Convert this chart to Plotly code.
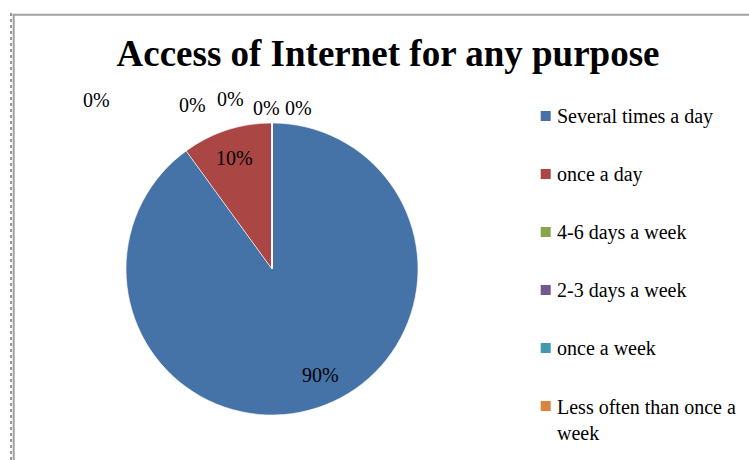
import math
import plotly.graph_objects as go

# ---- data ----
categories = [
    "Several times a day",
    "once a day",
    "4-6 days a week",
    "2-3 days a week",
    "once a week",
    "Less often than once a<br>week",
    "",  # blank row in the source sheet (not listed in the legend)
]
shares = [90, 10, 0, 0, 0, 0, 0]
colors = ["#4572A7", "#AA4643", "#89A54E", "#71588F", "#4198AF", "#DB843D", "#7F7F7F"]

W, H = 749, 460
SERIF = "Liberation Serif, Times New Roman, serif"

# pie placement (pixels)
cx, cy, R = 272, 269, 146

fig = go.Figure()

fig.add_trace(go.Pie(
    labels=categories,
    values=shares,
    marker=dict(colors=colors, line=dict(color="white", width=0.6)),
    sort=False,
    direction="clockwise",
    rotation=0,
    textinfo="none",
    showlegend=False,
    hoverinfo="label+percent",
    domain=dict(x=[(cx - R) / W, (cx + R) / W],
                y=[(H - cy - R) / H, (H - cy + R) / H]),
))

annotations = []

# percentage labels inside the non-zero slices
total = sum(shares)
start = 0.0
for v in shares:
    span = 360.0 * v / total
    if v > 0:
        ang = math.radians(start + 0.48 * span)
        rr = 0.8 * R
        px = cx + rr * math.sin(ang)
        py = cy - rr * math.cos(ang)
        annotations.append(dict(
            x=px / W, y=1 - py / H, xref="paper", yref="paper",
            text=f"{v / total:.0%}", showarrow=False,
            font=dict(family=SERIF, size=20, color="black"),
            xanchor="center", yanchor="middle"))
    start += span

# labels for the empty slices, stacked above the pie
zero_label_px = [(96, 100), (192, 105), (230, 99), (266, 108), (298, 108)]
zero_vals = [v for v in shares if v == 0]
for (px, py), v in zip(zero_label_px, zero_vals):
    annotations.append(dict(
        x=px / W, y=1 - py / H, xref="paper", yref="paper",
        text=f"{v / total:.0%}", showarrow=False,
        font=dict(family=SERIF, size=20, color="black"),
        xanchor="center", yanchor="middle"))

# legend: square swatches on a hidden axis, one row per category
legend_names = [c for c in categories if c]
legend_colors = colors[:len(legend_names)]
legend_rows = list(range(len(legend_names)))
swatch_x = 545.7 / W

fig.add_trace(go.Scatter(
    x=[swatch_x] * len(legend_rows), y=legend_rows,
    mode="markers",
    marker=dict(symbol="square", size=10, color=legend_colors, line=dict(width=0)),
    hoverinfo="skip", showlegend=False,
    xaxis="x", yaxis="y",
))
for i, name in zip(legend_rows, legend_names):
    multi = "<br>" in name
    annotations.append(dict(
        x=swatch_x, y=i, xref="x", yref="y",
        text=name, showarrow=False, align="left",
        font=dict(family=SERIF, size=20, color="black"),
        xanchor="left", xshift=9,
        yanchor="top" if multi else "middle",
        yshift=12 if multi else 0))

# frame lines around the chart area
shapes = [
    dict(type="line", xref="paper", yref="paper",
         x0=12.7 / W, x1=1, y0=1 - 14.7 / H, y1=1 - 14.7 / H,
         line=dict(color="#A0A0A0", width=2)),
    dict(type="line", xref="paper", yref="paper",
         x0=13.7 / W, x1=13.7 / W, y0=0, y1=1 - 14 / H,
         line=dict(color="#A0A0A0", width=2)),
    dict(type="line", xref="paper", yref="paper",
         x0=11 / W, x1=11 / W, y0=0, y1=1 - 11 / H,
         line=dict(color="#333333", width=1, dash="dot")),
]

fig.update_layout(
    width=W, height=H, autosize=False,
    margin=dict(l=0, r=0, t=0, b=0),
    paper_bgcolor="white", plot_bgcolor="rgba(0,0,0,0)",
    title=dict(text="<b>Access of Internet for any purpose</b>",
               x=388 / W, y=1 - 53 / H, xanchor="center", yanchor="middle",
               font=dict(family=SERIF, size=37, color="black")),
    xaxis=dict(visible=False, range=[0, 1], domain=[0, 1], fixedrange=True),
    yaxis=dict(visible=False, range=[(H - 116) / 58, -116 / 58], domain=[0, 1],
               fixedrange=True),
    annotations=annotations,
    shapes=shapes,
    showlegend=False,
)

fig.write_html("out.html")
